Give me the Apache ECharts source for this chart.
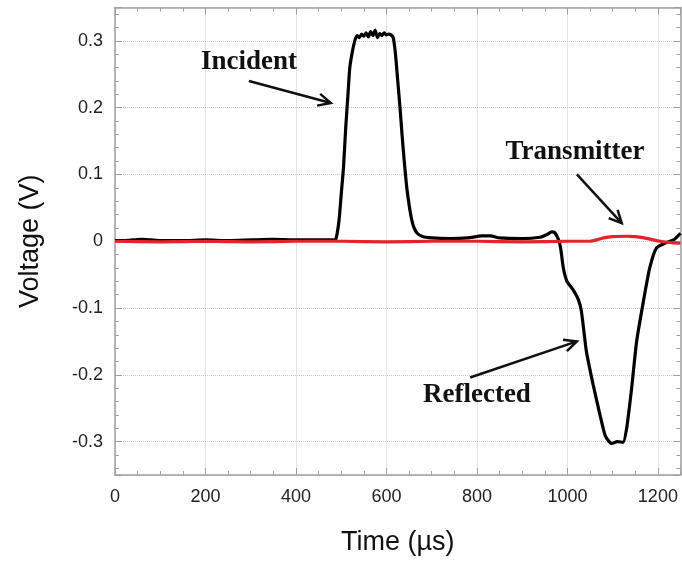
<!DOCTYPE html>
<html>
<head>
<meta charset="utf-8">
<script src="https://cdn.jsdelivr.net/npm/echarts@6/dist/echarts.min.js"></script>
<style>html,body{margin:0;padding:0;background:#fff}#c{width:682px;height:563px}</style>
</head>
<body>
<div id="c"></div>
<script>
// Black trace (incident + reflected)
const blackTime = [0,20,40,60,80,100,150,200,250,300,350,400,450,480,488,495,500,505,510,515,519,525,530,535,540,545,550,555,560,565,570,575,580,585,590,595,600,605,610,615,620,625,630,635,640,645,650,655,660,668,680,700,740,780,810,830,850,900,940,955,965,972,980,985,991,999,1012,1024,1031,1042,1057,1072,1083,1092,1098,1110,1123,1131,1142,1153,1168,1182,1197,1219,1235,1250];
const blackVolt = [0.001,0.001,0.002,0.003,0.002,0.001,0.001,0.002,0.001,0.002,0.003,0.002,0.002,0.002,0.003,0.03,0.07,0.11,0.17,0.22,0.26,0.285,0.3,0.308,0.305,0.31,0.307,0.312,0.306,0.314,0.308,0.316,0.305,0.311,0.308,0.312,0.309,0.31,0.309,0.305,0.28,0.24,0.2,0.155,0.115,0.08,0.055,0.035,0.022,0.012,0.007,0.005,0.004,0.005,0.008,0.008,0.005,0.004,0.006,0.01,0.014,0.013,0.003,-0.01,-0.04,-0.06,-0.072,-0.087,-0.105,-0.165,-0.215,-0.26,-0.29,-0.3,-0.303,-0.3,-0.301,-0.28,-0.22,-0.15,-0.09,-0.04,-0.01,-0.002,0.002,0.012];
// Red trace (transmitter)
const redTime = [0,100,200,300,400,500,600,700,800,900,1000,1050,1065,1080,1100,1130,1150,1170,1190,1205,1230,1250];
const redVolt = [0,-0.001,0,-0.001,0,0,-0.001,0,0,-0.001,0,0,0.002,0.005,0.007,0.0075,0.007,0.005,0.002,0,-0.002,-0.003];
// Tick values
const xTicks = [0,200,400,600,800,1000,1200];
const yTicks = [-0.3,-0.2,-0.1,0,0.1,0.2,0.3];
// Annotations [label, textT, textV, arrowFromT, arrowFromV, arrowToT, arrowToV]
const annotations = [
  ['Incident', 296, 0.269, 296, 0.24, 477, 0.207],
  ['Transmitter', 1017, 0.133, 1021, 0.1, 1120, 0.027],
  ['Reflected', 800, -0.2305, 785, -0.204, 1021, -0.15]
];

const zip = (a,b)=>a.map((t,i)=>[t,b[i]]);
const chart = echarts.init(document.getElementById('c'));
const frame = '#a0a0a0';
const labelFont = {fontFamily:'Liberation Sans, Arial', fontSize:18, color:'#222'};
function xAx(pos, show){
  return {type:'value', position:pos, min:0, max:1250, interval:200,
    axisLine:{show:true, onZero:false, lineStyle:{color:frame, width:1.5}},
    axisTick:{show:true, inside:true, length:7, lineStyle:{color:frame}},
    minorTick:{show:true, splitNumber:4, length:4, lineStyle:{color:frame}},
    axisLabel:Object.assign({show:show, margin:13, showMaxLabel:false, formatter:v=>xTicks.includes(v)?String(v):''}, labelFont),
    splitLine:{show:show, lineStyle:{color:'#c8c8c8', type:[1,1], width:1}},
    name: show?'Time (µs)':'', nameLocation:'middle', nameGap:54,
    nameTextStyle:{fontFamily:'Liberation Sans, Arial', fontSize:27, color:'#111'}};
}
function yAx(pos, show){
  return {type:'value', position:pos, min:-0.35, max:0.35, splitNumber:7,
    axisLine:{show:true, onZero:false, lineStyle:{color:frame, width:1.5}},
    axisTick:{show:true, inside:true, length:7, lineStyle:{color:frame}},
    minorTick:{show:true, splitNumber:5, length:4, lineStyle:{color:frame}},
    axisLabel:Object.assign({show:show, margin:12, showMinLabel:false, showMaxLabel:false,
      formatter:v=>{const r=Math.round(v*10)/10; return (Math.abs(v-r)<1e-9 && yTicks.some(t=>Math.abs(t-r)<1e-9))?String(r):'';}}, labelFont),
    splitLine:{show:show, lineStyle:{color:'#c8c8c8', type:[1,1], width:1}},
    name: show?'Voltage (V)':'', nameLocation:'middle', nameGap:71, nameRotate:90,
    nameTextStyle:{fontFamily:'Liberation Sans, Arial', fontSize:27, color:'#111'}};
}
chart.setOption({
  animation:false,
  grid:{left:115, right:1.5, top:7.5, bottom:88, containLabel:false},
  xAxis:[xAx('bottom', true), xAx('top', false)],
  yAxis:[yAx('left', true), yAx('right', false)],
  series:[
    {type:'line', data:zip(blackTime, blackVolt), showSymbol:false, smooth:0.2, lineStyle:{color:'#000', width:3.2}, z:2},
    {type:'line', data:zip(redTime, redVolt), showSymbol:false, smooth:0.2, lineStyle:{color:'#e3242b', width:3.2}, z:3}
  ]
});
const g = [];
annotations.forEach(a=>{
  const tp = chart.convertToPixel({xAxisIndex:0, yAxisIndex:0}, [a[1], a[2]]);
  const p0 = chart.convertToPixel({xAxisIndex:0, yAxisIndex:0}, [a[3], a[4]]);
  const p1 = chart.convertToPixel({xAxisIndex:0, yAxisIndex:0}, [a[5], a[6]]);
  g.push({type:'text', x:tp[0], y:tp[1], style:{text:a[0], font:'bold 27px "Liberation Serif", "Times New Roman", serif', fill:'#111', textAlign:'center', textVerticalAlign:'middle'}, z:10});
  g.push({type:'line', shape:{x1:p0[0], y1:p0[1], x2:p1[0], y2:p1[1]}, style:{stroke:'#111', lineWidth:2.5}, z:10});
  const ang = Math.atan2(p1[1]-p0[1], p1[0]-p0[0]);
  const L = 14, w = 0.45;
  const pts = [[p1[0]-L*Math.cos(ang-w), p1[1]-L*Math.sin(ang-w)], [p1[0], p1[1]], [p1[0]-L*Math.cos(ang+w), p1[1]-L*Math.sin(ang+w)]];
  g.push({type:'polyline', shape:{points:pts}, style:{stroke:'#111', lineWidth:2.5, fill:null}, z:10});
});
chart.setOption({graphic:g});
</script>
</body>
</html>
